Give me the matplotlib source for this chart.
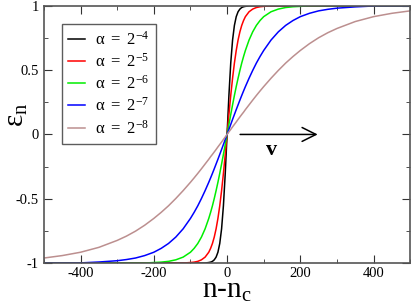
import numpy as np
import matplotlib
matplotlib.use('Agg')
import matplotlib.pyplot as plt

plt.rcParams['font.family'] = ['Liberation Serif', 'DejaVu Serif']
plt.rcParams['mathtext.fontset'] = 'custom'
plt.rcParams['mathtext.rm'] = 'Liberation Serif'
plt.rcParams['mathtext.it'] = 'Liberation Serif'

# n - n_c sample points
x = [-500, -450, -400, -350, -300, -275, -250, -225, -200, -180, -160, -140, -120, -100, -90, -80, -70, -60,
     -50, -45, -40, -35, -30, -25, -20, -15, -10, -5,
     0, 5, 10, 15, 20, 25, 30, 35, 40, 45, 50,
     60, 70, 80, 90, 100, 120, 140, 160, 180, 200, 225, 250, 275, 300, 350, 400, 450, 500]

eps_4 = [-1.0, -1.0, -1.0, -1.0, -1.0, -1.0, -1.0, -1.0, -1.0, -1.0, -1.0, -1.0, -1.0, -1.0, -1.0, -1.0, -1.0, -1.0,
         -0.996, -0.993, -0.987, -0.975, -0.954, -0.916, -0.848, -0.734, -0.555, -0.303,
         0.0, 0.303, 0.555, 0.734, 0.848, 0.916, 0.954, 0.975, 0.987, 0.993, 0.996,
         1.0, 1.0, 1.0, 1.0, 1.0, 1.0, 1.0, 1.0, 1.0, 1.0, 1.0, 1.0, 1.0, 1.0, 1.0, 1.0, 1.0, 1.0]
eps_5 = [-1.0, -1.0, -1.0, -1.0, -1.0, -1.0, -1.0, -1.0, -1.0, -1.0, -1.0, -1.0, -1.0, -0.996, -0.993, -0.987, -0.975, -0.954,
         -0.916, -0.886, -0.848, -0.798, -0.734, -0.653, -0.555, -0.437, -0.303, -0.155,
         0.0, 0.155, 0.303, 0.437, 0.555, 0.653, 0.734, 0.798, 0.848, 0.886, 0.916,
         0.954, 0.975, 0.987, 0.993, 0.996, 1.0, 1.0, 1.0, 1.0, 1.0, 1.0, 1.0, 1.0, 1.0, 1.0, 1.0, 1.0, 1.0]
eps_6 = [-1.0, -1.0, -1.0, -1.0, -1.0, -1.0, -1.0, -1.0, -0.996, -0.993, -0.987, -0.975, -0.954, -0.916, -0.886, -0.848, -0.798, -0.734,
         -0.653, -0.606, -0.555, -0.498, -0.437, -0.372, -0.303, -0.230, -0.155, -0.078,
         0.0, 0.078, 0.155, 0.230, 0.303, 0.372, 0.437, 0.498, 0.555, 0.606, 0.653,
         0.734, 0.798, 0.848, 0.886, 0.916, 0.954, 0.975, 0.987, 0.993, 0.996, 1.0, 1.0, 1.0, 1.0, 1.0, 1.0, 1.0, 1.0]
eps_7 = [-1.0, -1.0, -0.999, -0.992, -0.982, -0.973, -0.961, -0.942, -0.916, -0.886, -0.848, -0.798, -0.734, -0.653, -0.606, -0.555, -0.498, -0.437,
         -0.372, -0.338, -0.303, -0.267, -0.230, -0.193, -0.155, -0.117, -0.078, -0.039,
         0.0, 0.039, 0.078, 0.117, 0.155, 0.193, 0.230, 0.267, 0.303, 0.338, 0.372,
         0.437, 0.498, 0.555, 0.606, 0.653, 0.734, 0.798, 0.848, 0.886, 0.916, 0.942, 0.961, 0.973, 0.982, 0.992, 0.999, 1.0, 1.0]
eps_8 = [-0.961, -0.942, -0.916, -0.878, -0.824, -0.791, -0.752, -0.706, -0.653, -0.606, -0.555, -0.498, -0.437, -0.372, -0.338, -0.303, -0.267, -0.230,
         -0.193, -0.173, -0.155, -0.136, -0.117, -0.097, -0.078, -0.059, -0.039, -0.020,
         0.0, 0.020, 0.039, 0.059, 0.078, 0.097, 0.117, 0.136, 0.155, 0.173, 0.193,
         0.230, 0.267, 0.303, 0.338, 0.372, 0.437, 0.498, 0.555, 0.606, 0.653, 0.706, 0.752, 0.791, 0.824, 0.878, 0.916, 0.942, 0.961]

series = [eps_4, eps_5, eps_6, eps_7, eps_8]
labels = [r'$\alpha\ =\ 2^{-4}$', r'$\alpha\ =\ 2^{-5}$', r'$\alpha\ =\ 2^{-6}$', r'$\alpha\ =\ 2^{-7}$', r'$\alpha\ =\ 2^{-8}$']
colors = ['black', '#ff0000', '#00ee00', '#0000ff', '#bc8f8f']

fig = plt.figure(figsize=(4.11, 3.08), dpi=100)
ax = fig.add_axes([0.107, 0.146, 0.891, 0.835])

for y, lab, c in zip(series, labels, colors):
    ax.plot(x, y, color=c, lw=1.1, label=lab)

ax.set_xlim(-500, 500)
ax.set_ylim(-1, 1)
ax.set_xticks([-400, -200, 0, 200, 400])
ax.set_xticks([-500, -300, -100, 100, 300, 500], minor=True)
ax.set_yticks([-1, -0.5, 0, 0.5, 1])
ax.set_yticklabels(['-1', '-0.5', '0', '0.5', '1'])
ax.set_xticklabels(['-400', '-200', '0', '200', '400'])
ax.set_yticks([-0.75, -0.25, 0.25, 0.75], minor=True)
ax.tick_params(which='both', direction='in', top=True, right=True, labelsize=10.5, color='#333333')
ax.tick_params(which='major', length=6)
ax.tick_params(which='minor', length=3)
ax.tick_params(axis='x', pad=2.5)
for s in ax.spines.values():
    s.set_color('#555555')
    s.set_linewidth(1.2)

# axis labels placed by hand
fig.text(227 / 411, 1 - 298 / 308, r'n-n$_\mathregular{c}$', fontsize=21, ha='center', va='baseline')
fig.text(17 / 411, 1 - 115 / 308, r'$\epsilon_\mathregular{n}$', fontsize=21, rotation=90,
         ha='center', va='center')

ax.annotate('', xy=(255, 0), xytext=(28, 0),
            arrowprops=dict(arrowstyle='->', lw=1.1, color='black', mutation_scale=25))
ax.text(122, -0.04, 'v', fontsize=16, fontweight='bold', ha='center', va='top')

leg = ax.legend(loc='upper left', bbox_to_anchor=(0.048, 0.93), fontsize=12, frameon=True,
                fancybox=False, handlelength=1.0, handletextpad=0.6, labelspacing=0.26,
                borderpad=0.4, borderaxespad=0)
leg.get_frame().set_edgecolor('#333333')
leg.get_frame().set_linewidth(1.0)

fig.savefig('out.png', dpi=100)
